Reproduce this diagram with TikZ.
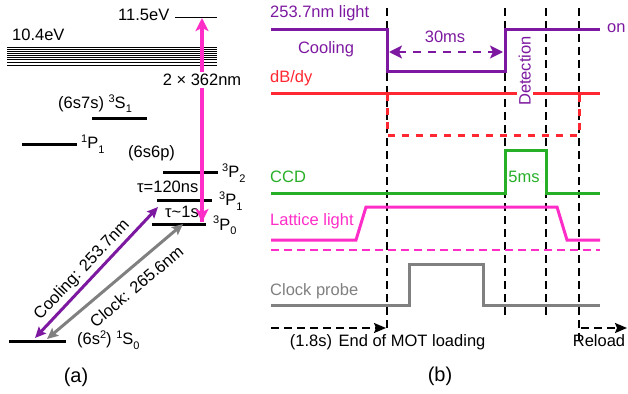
\documentclass[tikz,border=0pt]{standalone}
\usepackage{fontspec}
\setmainfont{Liberation Sans}
\usetikzlibrary{arrows.meta}
\definecolor{cpurple}{RGB}{125,25,160}
\definecolor{cred}{RGB}{255,40,50}
\definecolor{cgreen}{RGB}{40,175,40}
\definecolor{cpink}{RGB}{255,45,200}
\definecolor{cgray}{RGB}{128,128,128}
\newcommand\upx[1]{\raisebox{0.75ex}{\fontsize{11}{11}\selectfont #1}}
\newcommand\dnx[1]{\raisebox{-0.5ex}{\fontsize{11}{11}\selectfont #1}}
\begin{document}
\begin{tikzpicture}[x=1pt,y=-1pt,font=\fontsize{16.5}{19}\selectfont,
  level/.style={line width=3pt},
  lbl/.style={inner sep=0pt,anchor=mid west},
  ctr/.style={inner sep=0pt,anchor=mid},
  panel/.style={inner sep=0pt,anchor=mid,font=\fontsize{20}{24}\selectfont},
  trace/.style={line width=3pt,line join=miter},
  vdash/.style={line width=1.8pt,dash pattern=on 8pt off 5pt},
  bigtip/.style={-{Stealth[length=13pt,width=13pt,inset=3pt]}},
  midtip/.style={{Stealth[length=11pt,width=10pt,inset=2pt]}-{Stealth[length=11pt,width=10pt,inset=2pt]}},
  dtip/.style={{Stealth[length=13pt,width=13pt,inset=3pt]}-{Stealth[length=13pt,width=13pt,inset=3pt]}}]
\useasboundingbox (0,0) rectangle (628,393);

% ---------------- panel (a) ----------------
\foreach \yy/\ww in {47.5/1.6,49.5/1.5,51.5/1.4,53.5/1.3,55.5/1.2,57.5/1.1,60/1.0,62.5/0.9,65/0.9}
  \draw[line width=\ww pt] (7,\yy) -- (217,\yy);
\node[lbl] (e104) at (12,38) {10.4eV};
\draw[line width=1pt] (175,17.5) coordinate (top1) -- (217,17.5);
\node[lbl] (e115) at (118,17.5) {11.5eV};

% levels
\draw[level] (92,118) -- (147,118);
\node[lbl] (s1) at (58,106) {(6s7s) \upx{3}S\dnx{1}};
\draw[level] (22,144) -- (77,144);
\node[lbl] (p1s) at (81,146) {\upx{1}P\dnx{1}};
\node[lbl] (sp) at (128,155) {(6s6p)};
\draw[level] (163,172) -- (218,172);
\node[lbl] (p2) at (222,175) {\upx{3}P\dnx{2}};
\draw[level] (157,200) -- (212,200);
\node[lbl] (p1) at (219,203) {\upx{3}P\dnx{1}};
\node[lbl] (t1) at (137,190) {τ=120ns};
\draw[level] (152,224) -- (206,224);
\node[lbl] (p0) at (213,227.5) {\upx{3}P\dnx{0}};
\node[lbl] (t0) at (165,215) {τ\textasciitilde 1s};
\draw[level] (9,341) -- (66,341);
\node[lbl] (s0) at (77,342) {(6s\upx{2}) \upx{1}S\dnx{0}};

% transitions
\coordinate (pkb) at (202,222);
\coordinate (pkt) at (202,18);
\draw[cpink,line width=4pt,bigtip] (pkb) -- (pkt);
\draw[cpink,line width=4pt,bigtip] (202,120) -- (pkb);
\node[ctr,fill=white,inner sep=2pt] (twophoton) at (202,83) {2 × 362nm};

\coordinate (cool1) at (35,338);
\coordinate (cool2) at (158,207);
\draw[cpurple,line width=3pt,midtip] (cool1) -- (cool2)
  node[pos=0.455,sloped,above=2pt,text=black,inner sep=1pt] (coollbl) {Cooling: 253.7nm};
\coordinate (clk1) at (47,339);
\coordinate (clk2) at (183,224);
\draw[cgray,line width=3pt,midtip] (clk1) -- (clk2)
  node[pos=0.575,sloped,below=9pt,text=black,inner sep=1pt] (clklbl) {Clock: 265.6nm};

\node[panel] (la) at (76,380) {(a)};

% ---------------- panel (b) ----------------
\draw[vdash] (387,8) -- (387,330);
\draw[vdash] (505,8) -- (505,318);
\draw[vdash] (546,8) -- (546,318);
\draw[vdash] (579,8) -- (579,340);

% 253.7nm light
\draw[cpurple,trace] (271,30) -- (387,30) -- (387,72) -- (505,72) -- (505,30) -- (600,30);
\node[lbl,text=cpurple] (l253) at (270,15) {253.7nm light};
\node[ctr,text=cpurple] (lcool) at (326,51) {Cooling};
\node[lbl,text=cpurple] (lon) at (607,30) {on};
\coordinate (ms30a) at (389,52);
\coordinate (ms30b) at (503,52);
\draw[cpurple,line width=2pt,dash pattern=on 8pt off 7pt,dtip] (ms30a) -- (ms30b);
\node[ctr,text=cpurple] (l30) at (445,40) {30ms};

% dB/dy
\draw[cred,trace] (271,94) -- (600,94);
\draw[cred,line width=3pt,dash pattern=on 7pt off 7pt] (387,94) -- (387,135) -- (579,135) -- (579,94);
\node[lbl,text=cred] (ldb) at (270,80) {dB/dy};
\node[ctr,rotate=90,fill=white,inner sep=2pt,text=cpurple] (ldet) at (528,71) {Detection};

% CCD
\draw[cgreen,trace] (271,193) -- (505,193) -- (505,150) -- (546,150) -- (546,193) -- (600,193);
\node[lbl,text=cgreen] (lccd) at (270,180) {CCD};
\node[ctr,text=cgreen] (l5) at (524,180) {5ms};

% Lattice
\draw[cpink,trace] (271,240) -- (356,240) -- (366,207) -- (557,207) -- (567,240) -- (600,240);
\draw[cpink,line width=2pt,dash pattern=on 8pt off 5pt] (271,250) -- (600,250);
\node[lbl,text=cpink] (llat) at (270,223) {Lattice light};

% Clock probe
\draw[cgray,trace] (271,305) -- (409,305) -- (409,264) -- (483,264) -- (483,305) -- (600,305);
\node[lbl,text=cgray] (lclk) at (270,293) {Clock probe};

% timeline
\coordinate (ta) at (271,328);
\coordinate (tb) at (386,328);
\coordinate (tc) at (581,328);
\coordinate (td) at (627,328);
\draw[line width=1.8pt,dash pattern=on 8pt off 5pt,-{Stealth[length=12pt,width=10pt,inset=2pt]}] (ta) -- (tb);
\draw[line width=1.8pt,dash pattern=on 8pt off 5pt,-{Stealth[length=12pt,width=10pt,inset=2pt]}] (tc) -- (td);
\node[ctr] (l18) at (311,344) {(1.8s)};
\node[ctr] (lend) at (412,344) {End of MOT loading};
\node[ctr] (lrel) at (599,344) {Reload};

\node[panel] (lb) at (440,379) {(b)};
\end{tikzpicture}
\end{document}
